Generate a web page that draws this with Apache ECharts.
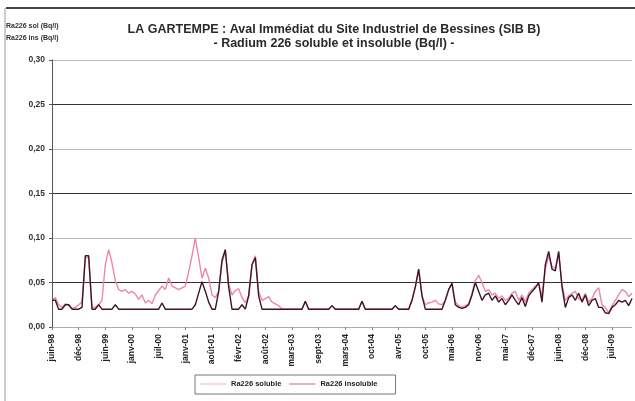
<!DOCTYPE html>
<html><head><meta charset="utf-8">
<script src="https://cdn.jsdelivr.net/npm/echarts@6/dist/echarts.min.js"></script>
<style>html,body{margin:0;padding:0;background:#fff}#c{width:635px;height:401px}</style>
</head><body><div id="c"></div>
<script>
// Tick labels (every 8th sample)
var tickLabels = ['juin-98','déc-98','juin-99','janv-00','juil-00','janv-01','août-01','févr-02','août-02','mars-03','sept-03','mars-04','oct-04','avr-05','oct-05','mai-06','nov-06','mai-07','déc-07','juin-08','déc-08','juil-09'];

// Ra226 soluble (Bq/l) - light pink line
var soluble = [
0.030,0.033,0.025,0.022,0.026,0.025,0.021,0.022,0.025,0.028,
0.078,0.078,0.022,0.022,0.025,0.030,0.070,0.087,0.072,0.052,
0.042,0.040,0.042,0.038,0.040,0.037,0.031,0.036,0.027,0.030,
0.026,0.036,0.041,0.046,0.042,0.055,0.046,0.044,0.042,0.044,
0.046,0.062,0.080,0.100,0.078,0.055,0.066,0.055,0.036,0.033,
0.040,0.072,0.085,0.048,0.036,0.041,0.043,0.033,0.027,0.035,
0.070,0.080,0.040,0.030,0.032,0.034,0.028,0.026,0.024,0.020,
0.020,0.020,0.020,0.020,0.020,0.020,0.029,0.020,0.020,0.020,
0.020,0.020,0.020,0.020,0.024,0.020,0.020,0.020,0.020,0.020,
0.020,0.020,0.020,0.029,0.020,0.020,0.020,0.020,0.020,0.020,
0.020,0.020,0.020,0.024,0.020,0.020,0.020,0.020,0.030,0.045,
0.064,0.035,0.025,0.027,0.028,0.030,0.026,0.025,0.030,0.042,
0.049,0.028,0.024,0.022,0.024,0.026,0.038,0.052,0.058,0.050,
0.040,0.042,0.036,0.038,0.032,0.035,0.030,0.032,0.038,0.040,
0.030,0.036,0.028,0.038,0.042,0.046,0.048,0.035,0.065,0.080,
0.068,0.066,0.083,0.048,0.030,0.035,0.038,0.040,0.032,0.030,
0.038,0.028,0.032,0.040,0.044,0.025,0.022,0.016,0.024,0.030,
0.036,0.042,0.040,0.034,0.038
];

// Ra226 insoluble (Bq/l) - dark line
var insoluble = [
0.030,0.030,0.020,0.020,0.025,0.025,0.020,0.020,0.020,0.022,
0.080,0.080,0.020,0.020,0.025,0.020,0.020,0.020,0.020,0.025,
0.020,0.020,0.020,0.020,0.020,0.020,0.020,0.020,0.020,0.020,
0.020,0.020,0.020,0.027,0.020,0.020,0.020,0.020,0.020,0.020,
0.020,0.020,0.020,0.025,0.038,0.051,0.040,0.028,0.020,0.020,
0.040,0.075,0.087,0.045,0.020,0.020,0.020,0.025,0.020,0.035,
0.070,0.078,0.035,0.020,0.020,0.020,0.020,0.020,0.020,0.020,
0.020,0.020,0.020,0.020,0.020,0.020,0.029,0.020,0.020,0.020,
0.020,0.020,0.020,0.020,0.024,0.020,0.020,0.020,0.020,0.020,
0.020,0.020,0.020,0.029,0.020,0.020,0.020,0.020,0.020,0.020,
0.020,0.020,0.020,0.024,0.020,0.020,0.020,0.020,0.030,0.045,
0.065,0.035,0.020,0.020,0.020,0.020,0.020,0.020,0.030,0.042,
0.049,0.025,0.022,0.021,0.022,0.025,0.036,0.050,0.040,0.030,
0.036,0.038,0.030,0.035,0.028,0.032,0.025,0.030,0.036,0.030,
0.025,0.033,0.023,0.035,0.040,0.044,0.050,0.028,0.070,0.085,
0.065,0.063,0.085,0.045,0.022,0.033,0.036,0.030,0.038,0.028,
0.036,0.024,0.030,0.032,0.022,0.022,0.016,0.015,0.022,0.025,
0.030,0.028,0.030,0.024,0.032
];

var categories = soluble.map(function(_, i){ return String(i); });

var chart = echarts.init(document.getElementById('c'), null, {renderer:'canvas'});
var FONT = 'Liberation Sans, Arial, sans-serif';
chart.setOption({
  backgroundColor: '#fff',
  animation: false,
  title: {
    text: 'LA GARTEMPE : Aval Immédiat du Site Industriel de Bessines (SIB B)\n- Radium 226 soluble et insoluble (Bq/l) -',
    left: 329, top: 18, textAlign: 'center',
    textStyle: {fontFamily: FONT, fontSize: 12.5, fontWeight: 'bold', color: '#2a2a2a', lineHeight: 13.5, align: 'center'}
  },
  graphic: [
    {type:'line', shape:{x1:6, y1:8, x2:635, y2:8}, style:{stroke:'#444', lineWidth:2}},
    {type:'line', shape:{x1:5, y1:8, x2:5, y2:401}, style:{stroke:'#999', lineWidth:1}},
    {type:'text', left:6, top:23, style:{text:'Ra226 sol (Bq/l)', font:'bold 7px ' + FONT, fill:'#333'}},
    {type:'text', left:6, top:35, style:{text:'Ra226 ins (Bq/l)', font:'bold 7px ' + FONT, fill:'#333'}}
  ],
  legend: {
    left: 195, top: 375, itemGap: 8, itemWidth: 26, itemHeight: 6,
    padding: [5, 18, 6, 5],
    borderColor: '#777', borderWidth: 1,
    icon: 'path://M0,3 L28,3 L28,4 L0,4 Z',
    textStyle: {fontFamily: FONT, fontSize: 7.5, fontWeight: 'bold', color: '#222'},
    data: ['Ra226 soluble', 'Ra226 insoluble']
  },
  grid: {left: 52, right: 3, top: 60, bottom: 74, containLabel: false},
  xAxis: {
    type: 'category', data: categories, boundaryGap: false,
    axisLine: {show: true, lineStyle: {color: '#aaa', type: 'dotted'}},
    axisTick: {show: true, interval: 7, length: 3, lineStyle: {color: '#888'}},
    axisLabel: {
      interval: 7, rotate: 90, margin: 7,
      fontFamily: FONT, fontSize: 8.5, fontWeight: 'bold', color: '#222',
      formatter: function(v, idx){ return idx % 8 === 0 ? tickLabels[idx / 8] : ''; }
    },
    splitLine: {show: false}
  },
  yAxis: {
    type: 'value', min: 0, max: 0.30, interval: 0.05,
    axisLine: {show: true, lineStyle: {color: '#555', width: 1}},
    axisTick: {show: true, length: 3, lineStyle: {color: '#555'}},
    axisLabel: {fontFamily: FONT, fontSize: 8.5, fontWeight: 'bold', color: '#333', margin: 7,
      formatter: function(v){ return v.toFixed(2).replace('.', ','); }},
    splitLine: {show: true, lineStyle: {color: ['#bbb', '#333'], width: 1}}
  },
  series: [
    {name: 'Ra226 soluble', type: 'line', data: soluble, symbol: 'none',
     lineStyle: {color: '#ee85ab', width: 1.4}, itemStyle: {color: '#f0a8c0'}, z: 2},
    {name: 'Ra226 insoluble', type: 'line', data: insoluble, symbol: 'none',
     lineStyle: {color: '#3e1428', width: 1.4}, itemStyle: {color: '#c8557e'}, z: 3}
  ]
});
</script></body></html>
